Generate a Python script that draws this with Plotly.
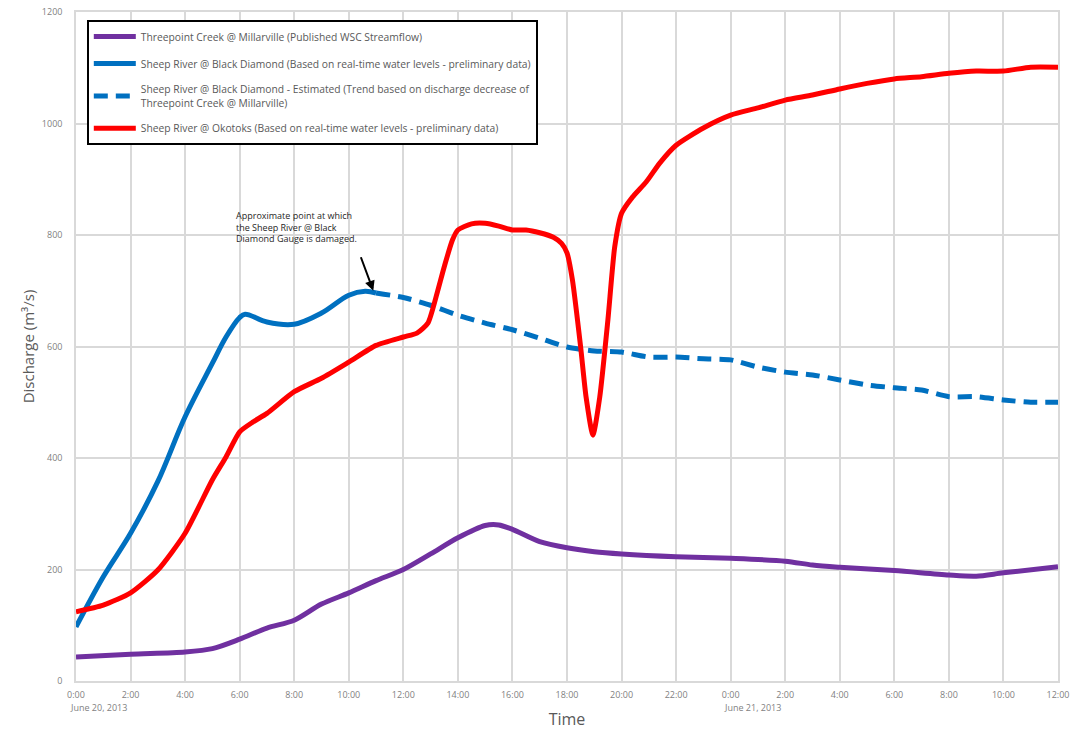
import plotly.graph_objects as go

# ---- data (hours since 0:00 June 20, 2013; discharge m3/s) ----
purple_h = [0, 2, 4, 5, 6, 7, 8, 9, 10, 11, 12, 13, 14, 15, 15.5, 16, 17, 18, 19, 20, 22, 24, 26, 27, 28, 30, 32, 33, 34, 36]
purple_v = [43, 48, 52, 58, 75, 95, 109, 138, 158, 180, 200, 228, 257, 279, 280, 272, 250, 239, 232, 228, 223, 220, 215, 208, 204, 198, 190, 188, 194, 205]

blue_h = [0, 1, 2, 3, 4, 5, 5.5, 6, 6.2, 7, 8, 9, 10, 10.6, 11]
blue_v = [97, 187, 265, 358, 474, 570, 617, 652, 658, 644, 640, 660, 692, 699, 696]

blue_est_h = [11, 12, 13, 14, 15, 16, 17, 18, 19, 20, 21, 22, 23, 24, 25, 26, 27, 28, 29, 30, 31, 32, 33, 34, 35, 36]
blue_est_v = [696, 688, 674, 656, 642, 630, 615, 599, 592, 590, 581, 581, 578, 576, 563, 554, 549, 540, 531, 526, 522, 510, 510, 504, 500, 500]

red_h = [0, 1, 2, 3, 4, 5, 5.5, 6, 6.5, 7, 8, 9, 10, 11, 12, 12.5, 12.9, 13.2, 13.5, 13.8, 14, 14.5, 15, 15.5, 16, 16.5, 17, 17.5, 17.8, 18,
         18.2, 18.5, 18.7, 18.95, 19.2, 19.5, 19.75, 20, 20.4, 20.9, 21.4, 22, 23, 24, 25, 26, 27, 28, 29, 30, 31, 32, 33, 34, 35, 36]
red_v = [124, 136, 158, 199, 265, 361, 402, 447, 465, 480, 519, 543, 572, 602, 617, 624, 642, 689, 743, 791, 809, 820, 821, 816, 809, 809, 804, 796, 785, 768,
         719, 599, 509, 441, 509, 648, 779, 839, 868, 895, 929, 961, 992, 1015, 1028, 1042, 1051, 1062, 1072, 1080, 1084, 1090, 1094, 1094, 1101, 1101]

tick_hours = list(range(0, 37, 2))
tick_text = ["0:00", "2:00", "4:00", "6:00", "8:00", "10:00", "12:00", "14:00", "16:00", "18:00",
             "20:00", "22:00", "0:00", "2:00", "4:00", "6:00", "8:00", "10:00", "12:00"]
date_hours = [0, 24]
date_labels = ["June 20, 2013", "June 21, 2013"]

names = [
    "Threepoint Creek @ Millarville (Published WSC Streamflow)",
    "Sheep River @ Black Diamond (Based on real-time water levels - preliminary data)",
    "Sheep River @ Black Diamond - Estimated (Trend based on discharge decrease of<br>Threepoint Creek @ Millarville)",
    "Sheep River @ Okotoks (Based on real-time water levels - preliminary data)",
]

PURPLE = "#7030A0"
BLUE = "#0070C0"
RED = "#FF0000"
GRID = "#D9D9D9"
FONT = "Open Sans"

fig = go.Figure()
fig.add_trace(go.Scatter(x=purple_h, y=purple_v, mode="lines", name=names[0], legendgroup="a",
                         line=dict(color=PURPLE, width=5, shape="spline", smoothing=0.8)))
fig.add_trace(go.Scatter(x=blue_h, y=blue_v, mode="lines", name=names[1], legendgroup="b",
                         line=dict(color=BLUE, width=5, shape="spline", smoothing=1.0)))
fig.add_trace(go.Scatter(x=blue_est_h, y=blue_est_v, mode="lines", name=names[2], legendgroup="c",
                         line=dict(color=BLUE, width=5, dash="14px,8px", shape="spline", smoothing=0.6)))
fig.add_trace(go.Scatter(x=red_h, y=red_v, mode="lines", name=names[3], legendgroup="d",
                         line=dict(color=RED, width=5, shape="spline", smoothing=0.6)))

# damage annotation
fig.add_annotation(x=10.9, y=700, ax=-13, ay=-35, text="", showarrow=True,
                   arrowhead=2, arrowsize=1, arrowwidth=2, arrowcolor="#000000")
fig.add_annotation(x=5.8, y=850, xanchor="left", yanchor="top", align="left", showarrow=False,
                   text="Approximate point at which<br>the Sheep River @ Black<br>Diamond Gauge is damaged.",
                   font=dict(family=FONT, size=9, color="#262626"))

for h, lab in zip(date_hours, date_labels):
    fig.add_annotation(x=h, y=0, yref="paper", xanchor="center", yanchor="top", yshift=-18, xshift=22,
                       showarrow=False, text=lab, font=dict(family=FONT, size=9, color="#7F7F7F"))

fig.update_layout(
    width=1086, height=736,
    margin=dict(l=76, r=28, t=12, b=55, autoexpand=False),
    paper_bgcolor="white", plot_bgcolor="white",
    font=dict(family=FONT, color="#7F7F7F"),
    showlegend=True,
    legend=dict(x=0.011, y=0.988, xanchor="left", yanchor="top",
                bordercolor="#000000", borderwidth=2, bgcolor="white",
                font=dict(family=FONT, size=10.3, color="#595959"),
                traceorder="grouped", tracegroupgap=8, itemwidth=42),
    xaxis=dict(range=[0, 36], tickmode="array", tickvals=tick_hours, ticktext=tick_text,
               automargin=False, ticklabeloverflow="allow",
               showgrid=True, gridcolor=GRID, gridwidth=1.5, zeroline=False,
               showline=True, linecolor=GRID, linewidth=1.5, mirror=True,
               ticks="outside", ticklen=4, tickcolor="white",
               tickfont=dict(family=FONT, size=9, color="#7F7F7F"),
               title=dict(text="Time", font=dict(family=FONT, size=16, color="#595959"), standoff=14)),
    yaxis=dict(range=[0, 1200], tickmode="array", tickvals=[0, 200, 400, 600, 800, 1000, 1200],
               automargin=False, ticklabeloverflow="allow",
               showgrid=True, gridcolor=GRID, gridwidth=1.5, zeroline=False,
               showline=True, linecolor=GRID, linewidth=1.5, mirror=True,
               ticks="outside", ticklen=10, tickcolor="white",
               tickfont=dict(family=FONT, size=9, color="#7F7F7F"),
               title=dict(text="Discharge (m³/s)", font=dict(family=FONT, size=15, color="#595959"), standoff=4)),
)

# remove the default 8px page margin so the figure fills the 1086x736 window exactly
fig.write_html("out.html", config={"displayModeBar": False},
               post_script="document.body.style.margin='0';")
